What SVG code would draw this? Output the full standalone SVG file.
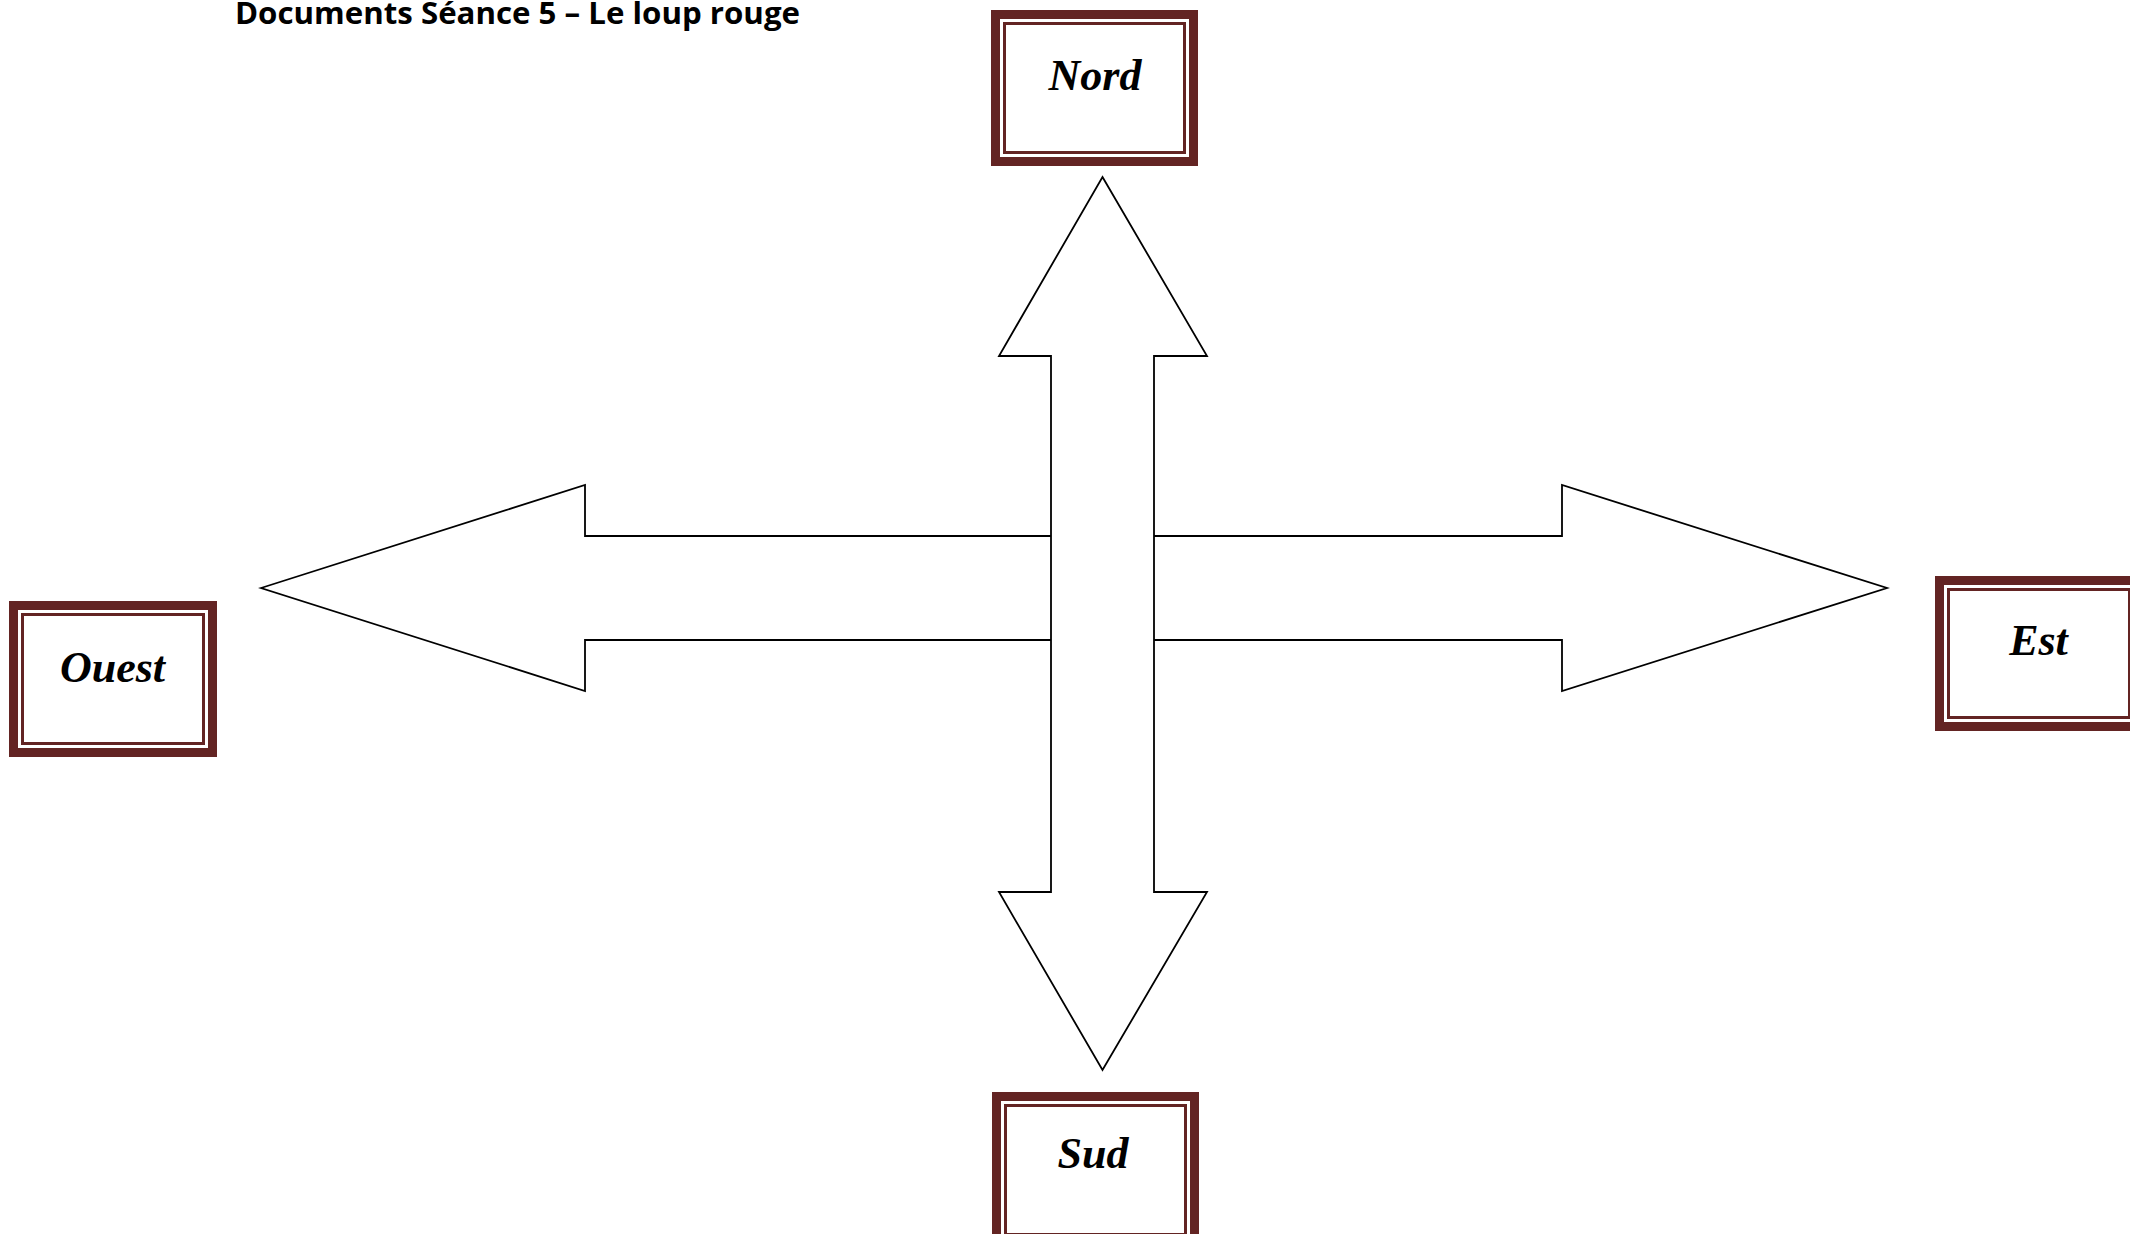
<svg xmlns="http://www.w3.org/2000/svg" width="2130" height="1234" viewBox="0 0 2130 1234">
  <style>
    .outer { fill: #ffffff; stroke: #632423; stroke-width: 9; }
    .inner { fill: none; stroke: #632423; stroke-width: 3; }
    .lbl { font-family: "Liberation Serif", "Times New Roman", serif; font-weight: bold; font-style: italic; font-size: 44px; fill: #000000; text-anchor: middle; }
    .title { font-family: "Open Sans", "Liberation Sans", sans-serif; font-weight: bold; font-size: 31px; fill: #000000; }
    .arrow { fill: #ffffff; stroke: #000000; stroke-width: 1.8; stroke-linejoin: miter; }
  </style>
  <rect width="2130" height="1234" fill="#ffffff"/>
  <text class="title" x="235" y="24" textLength="565" lengthAdjust="spacingAndGlyphs">Documents Séance 5 – Le loup rouge</text>

  <g id="connectors">
    <polygon class="arrow" points="261,588 585,485 585,536 1562,536 1562,485 1887,588 1562,691 1562,640 585,640 585,691"/>
    <polygon class="arrow" points="1102.5,177 1207,356 1154,356 1154,892 1207,892 1102.5,1070 999,892 1051,892 1051,356 999,356"/>
  </g>

  <g id="nord">
    <rect class="outer" x="995.5" y="14.5" width="198" height="147"/>
    <rect class="inner" x="1004.5" y="23.5" width="180" height="129"/>
    <text class="lbl" x="1095" y="90">Nord</text>
  </g>
  <g id="ouest">
    <rect class="outer" x="13.5" y="605.5" width="199" height="147"/>
    <rect class="inner" x="22.5" y="614.5" width="181" height="129"/>
    <text class="lbl" x="112.5" y="682">Ouest</text>
  </g>
  <g id="est">
    <rect class="outer" x="1939.5" y="580.5" width="199" height="146"/>
    <rect class="inner" x="1948.5" y="589.5" width="181" height="128"/>
    <text class="lbl" x="2038.5" y="655">Est</text>
  </g>
  <g id="sud">
    <rect class="outer" x="996.5" y="1096.5" width="198" height="147"/>
    <rect class="inner" x="1005.5" y="1105.5" width="180" height="129"/>
    <text class="lbl" x="1093" y="1168">Sud</text>
  </g>
</svg>
